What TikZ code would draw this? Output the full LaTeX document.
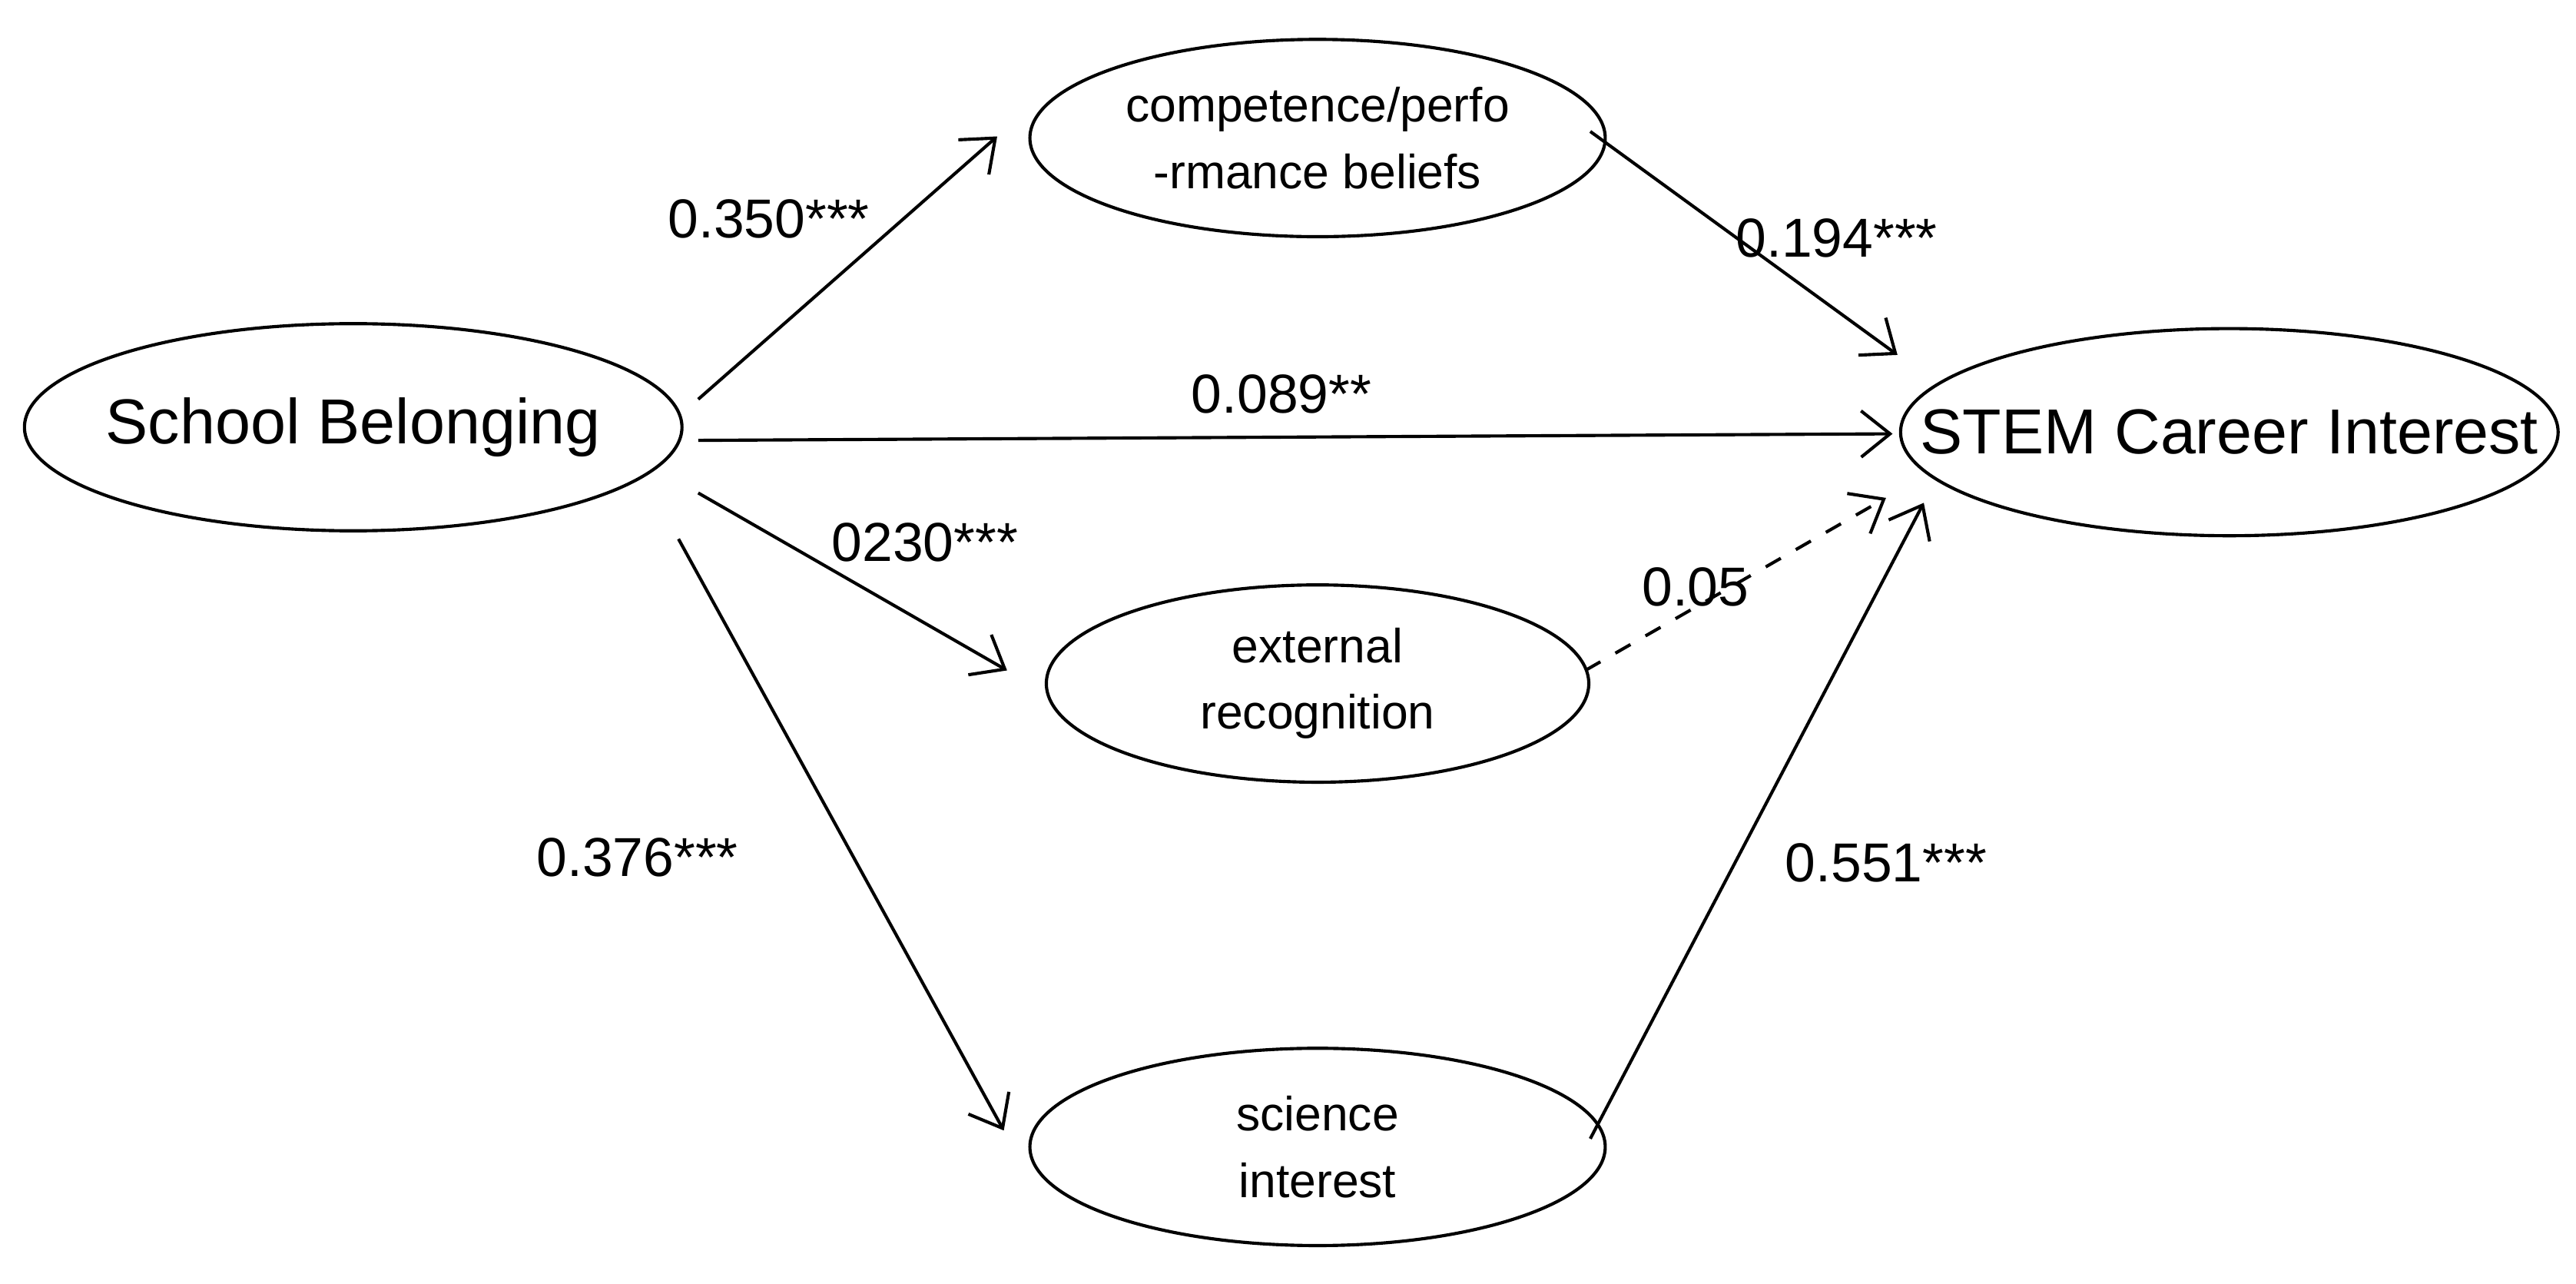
\documentclass[tikz,border=0pt]{standalone}
\usepackage{fontspec}
\setmainfont{Liberation Sans}
\usetikzlibrary{arrows.meta,shapes.geometric}
\begin{document}
\begin{tikzpicture}[x=0.01cm,y=-0.01cm,
  txt/.style={align=center,inner sep=0pt},
  big/.style={txt,font=\fontsize{11}{13}\selectfont},
  small/.style={txt,font=\fontsize{8.3}{11.5}\selectfont},
  eln/.style={line width=0.55pt},
  conn/.style={-{Straight Barb[length=5pt,width=8pt]},line width=0.55pt},
  lab/.style={font=\fontsize{9.5}{11}\selectfont}]
\useasboundingbox (0,0) rectangle (1568,781);
\node[big] (sb) at (215,260) {School Belonging};
\node[big] (stem) at (1357,263) {STEM Career Interest};
\node[small] (cp) at (802,84) {competence/perfo\\-rmance beliefs};
\node[small] (er) at (802,416) {external\\recognition};
\node[small] (si) at (802,698) {science\\interest};
\draw[eln] (sb.center) ellipse [x radius=2cm,y radius=0.63cm];
\draw[eln] (stem.center) ellipse [x radius=2cm,y radius=0.63cm];
\draw[eln] (cp.center) ellipse [x radius=1.75cm,y radius=0.6cm];
\draw[eln] (er.center) ellipse [x radius=1.65cm,y radius=0.6cm];
\draw[eln] (si.center) ellipse [x radius=1.75cm,y radius=0.6cm];
\coordinate (a1) at (425,243); \coordinate (b1) at (607,83);
\coordinate (a2) at (425,268); \coordinate (b2) at (1152,264);
\coordinate (a3) at (425,300); \coordinate (b3) at (613,408);
\coordinate (a4) at (413,328); \coordinate (b4) at (611,688);
\coordinate (a5) at (968,80); \coordinate (b5) at (1155,216);
\coordinate (a6) at (965,408); \coordinate (b6) at (1148,303);
\coordinate (a7) at (968,693); \coordinate (b7) at (1171,306);
\draw[conn] (a1) -- (b1);
\draw[conn] (a2) -- (b2);
\draw[conn] (a3) -- (b3);
\draw[conn] (a4) -- (b4);
\draw[conn] (a5) -- (b5);
\draw[conn,dashed] (a6) -- (b6);
\draw[conn] (a7) -- (b7);
\node[lab] (l1) at (468,133) {0.350***};
\node[lab] (l2) at (780,240) {0.089**};
\node[lab] (l3) at (563,330) {0230***};
\node[lab] (l4) at (388,522) {0.376***};
\node[lab] (l5) at (1118,145) {0.194***};
\node[lab] (l6) at (1032,357) {0.05};
\node[lab] (l7) at (1148,525) {0.551***};
\end{tikzpicture}
\end{document}
